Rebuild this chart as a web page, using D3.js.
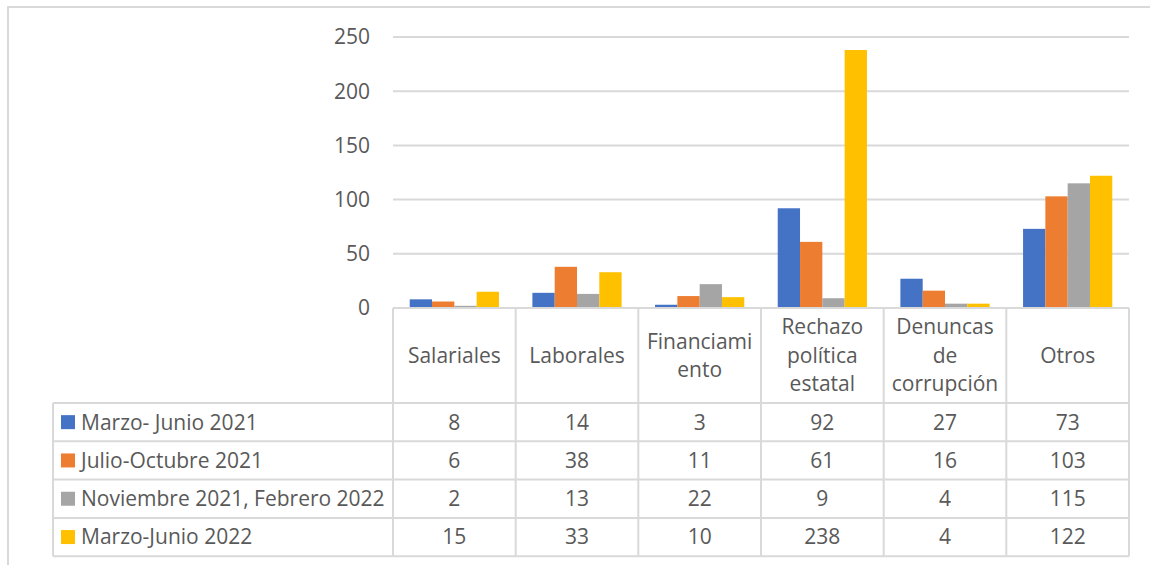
<!DOCTYPE html>
<meta charset="utf-8">
<title>Protestas por motivo</title>
<style>
body { margin: 0; background: #fff; }
text { font-family: "Open Sans", sans-serif; fill: #595959; }
.grid line { stroke: #d9d9d9; stroke-width: 2; }
.tbl line { stroke: #d9d9d9; stroke-width: 2; }
</style>
<svg class="chart"></svg>
<script src="https://d3js.org/d3.v7.min.js"></script>
<script>

var categories = [["Salariales"], ["Laborales"], ["Financiami", "ento"],
                  ["Rechazo", "política", "estatal"], ["Denuncas", "de", "corrupción"], ["Otros"]];
var seriesNames = ["Marzo- Junio 2021", "Julio-Octubre 2021", "Noviembre 2021, Febrero 2022", "Marzo-Junio 2022"];
var marzoJunio2021 = [8, 14, 3, 92, 27, 73];
var julioOctubre2021 = [6, 38, 11, 61, 16, 103];
var noviembreFebrero = [2, 13, 22, 9, 4, 115];
var marzoJunio2022 = [15, 33, 10, 238, 4, 122];
var colors = ["#4472C4", "#ED7D31", "#A5A5A5", "#FFC000"];
var yTicks = [0, 50, 100, 150, 200, 250];

var series = [marzoJunio2021, julioOctubre2021, noviembreFebrero, marzoJunio2022];

var width = 1150, height = 565;
var plot = {left: 393, right: 1129, top: 37, bottom: 308};
var tableLeft = 53, headerBottom = 403, rowH = 38.3;
var fontSize = "21px";

var svg = d3.select(".chart")
    .attr("width", width)
    .attr("height", height);

// outer frame
svg.append("path")
    .attr("d", "M8," + height + "V7H" + width)
    .attr("fill", "none")
    .attr("stroke", "#d9d9d9")
    .attr("stroke-width", 2);

var x = d3.scaleBand()
    .domain(d3.range(categories.length))
    .range([plot.left, plot.right]);

var x1 = d3.scaleBand()
    .domain(d3.range(series.length))
    .range([0, x.bandwidth()])
    .paddingOuter(0.75);

var y = d3.scaleLinear()
    .domain([0, 250])
    .range([plot.bottom, plot.top]);

// gridlines
svg.append("g")
    .attr("class", "grid")
    .selectAll("line")
    .data(yTicks.slice(1))
    .enter().append("line")
    .attr("x1", plot.left)
    .attr("x2", plot.right)
    .attr("y1", function(d) { return y(d); })
    .attr("y2", function(d) { return y(d); });

// y tick labels
svg.append("g")
    .selectAll("text")
    .data(yTicks)
    .enter().append("text")
    .attr("x", 370)
    .attr("y", function(d) { return y(d); })
    .attr("dy", "0.35em")
    .attr("text-anchor", "end")
    .style("font-size", fontSize)
    .text(function(d) { return d; });

// bars
svg.append("g")
    .selectAll("g")
    .data(series)
    .enter().append("g")
    .attr("fill", function(d, i) { return colors[i]; })
    .each(function(vals, si) {
      d3.select(this).selectAll("rect")
          .data(vals)
          .enter().append("rect")
          .attr("x", function(d, ci) { return x(ci) + x1(si); })
          .attr("width", x1.bandwidth())
          .attr("y", function(d) { return y(d); })
          .attr("height", function(d) { return y(0) - y(d); });
    });

// data table
var tbl = svg.append("g").attr("class", "tbl");
var tableBottom = headerBottom + rowH * series.length;

tbl.append("line")
    .attr("x1", plot.left).attr("x2", plot.right)
    .attr("y1", plot.bottom).attr("y2", plot.bottom);

d3.range(series.length + 1).forEach(function(r) {
  var yy = headerBottom + r * rowH;
  tbl.append("line")
      .attr("x1", tableLeft).attr("x2", plot.right)
      .attr("y1", yy).attr("y2", yy);
});

tbl.append("line")
    .attr("x1", tableLeft).attr("x2", tableLeft)
    .attr("y1", headerBottom).attr("y2", tableBottom);

d3.range(categories.length + 1).forEach(function(c) {
  var xx = c < categories.length ? x(c) : plot.right;
  tbl.append("line")
      .attr("x1", xx).attr("x2", xx)
      .attr("y1", plot.bottom).attr("y2", tableBottom);
});

// category headers
var headerMid = (plot.bottom + headerBottom) / 2;
categories.forEach(function(lines, ci) {
  var t = svg.append("text")
      .attr("text-anchor", "middle")
      .style("font-size", fontSize);
  lines.forEach(function(l, li) {
    t.append("tspan")
        .attr("x", x(ci) + x.bandwidth() / 2)
        .attr("y", headerMid + (li - (lines.length - 1) / 2) * 28.5)
        .attr("dy", "0.35em")
        .text(l);
  });
});

// legend rows and values
series.forEach(function(vals, si) {
  var cy = headerBottom + (si + 0.5) * rowH;
  svg.append("rect")
      .attr("x", 61)
      .attr("y", cy - 7)
      .attr("width", 14)
      .attr("height", 14)
      .attr("fill", colors[si]);
  svg.append("text")
      .attr("x", 81)
      .attr("y", cy)
      .attr("dy", "0.35em")
      .style("font-size", fontSize)
      .text(seriesNames[si]);
  svg.append("g")
      .selectAll("text")
      .data(vals)
      .enter().append("text")
      .attr("x", function(d, ci) { return x(ci) + x.bandwidth() / 2; })
      .attr("y", cy)
      .attr("dy", "0.35em")
      .attr("text-anchor", "middle")
      .style("font-size", fontSize)
      .text(function(d) { return d; });
});

</script>
